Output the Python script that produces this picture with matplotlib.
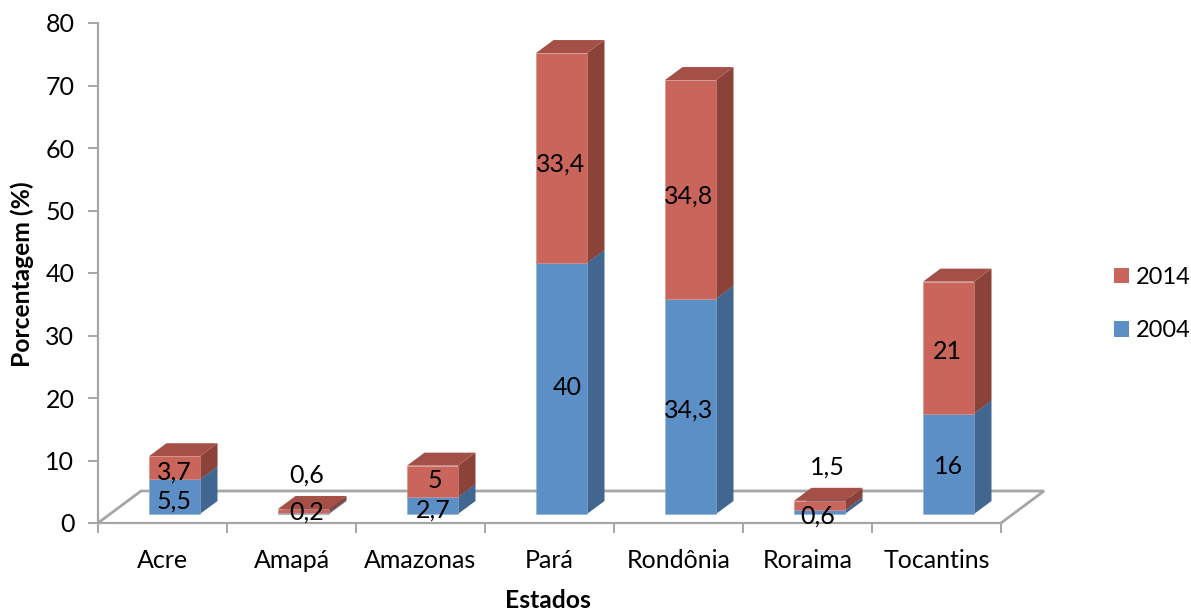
import matplotlib
matplotlib.use("Agg")
import matplotlib.pyplot as plt
from matplotlib.patches import Patch

plt.rcParams['font.family'] = ['Lato', 'DejaVu Sans']

# Chart data
states = ['Acre', 'Amapá', 'Amazonas', 'Pará', 'Rondônia', 'Roraima', 'Tocantins']
values_2004 = [5.5, 0.2, 2.7, 40, 34.3, 0.6, 16]
values_2014 = [3.7, 0.6, 5, 33.4, 34.8, 1.5, 21]
labels_2004 = ['5,5', '0,2', '2,7', '40', '34,3', '0,6', '16']
labels_2014 = ['3,7', '0,6', '5', '33,4', '34,8', '1,5', '21']
y_ticks = [0, 10, 20, 30, 40, 50, 60, 70, 80]

# Label nudges in pixels (right, up) from the middle of each segment
nudge_2004 = [(0, -2), (3.5, 3), (0.5, -2.5), (5.5, 2.5), (-1.5, -2), (-1.5, -2), (0, -1)]
nudge_2014 = [(0, -2), (3.5, 38), (2.5, 3), (-0.5, -4), (-1.5, -4.5), (7.5, 40), (-1.5, -1.5)]

W, H = 1191, 610
GRAY = '#A6A6A6'
RED = {'front': '#C9655B', 'top': '#A55046', 'side': '#8A4239', 'edge': '#D38F88'}
BLUE = {'front': '#5B8FC5', 'top': '#4A76A6', 'side': '#416690', 'edge': '#8FB2D8'}
FS = 18

fig = plt.figure(figsize=(W / 100, H / 100), dpi=100, facecolor='white')
ax = fig.add_axes([98 / W, 1 - 523 / H, (1001 - 98) / W, 500 / H])
ax.set_xlim(0, 7)
ax.set_ylim(0, 80)

px_x = 129.0            # pixels per category
px_y = 6.25             # pixels per axis unit
depth_x = 17.5 / px_x
depth_y = 13 / px_y
base = 9 / px_y         # bars stand on the floor, slightly above the axis line
gain = 6.28 / px_y
half_w = 25.5 / px_x
centre_shift = 12 / px_x


def box(xc, v0, v1, colors, z):
    """Draw one oblique box between two cumulative values."""
    x0, x1 = xc - half_w, xc + half_w
    y0, y1 = base + v0 * gain, base + v1 * gain
    kw = dict(clip_on=False, zorder=z, linewidth=0)
    ax.fill([x1, x1 + depth_x, x1 + depth_x, x1],
            [y0, y0 + depth_y, y1 + depth_y, y1], color=colors['side'], **kw)
    ax.fill([x0, x1, x1 + depth_x, x0 + depth_x],
            [y1, y1, y1 + depth_y, y1 + depth_y], color=colors['top'], **kw)
    ax.fill([x0, x1, x1, x0], [y0, y0, y1, y1], facecolor=colors['front'],
            edgecolor=colors['edge'], clip_on=False, zorder=z + 0.1, linewidth=0.4)


# Floor of the oblique plot area
floor_x = [0, 43 / px_x, 7 + 43 / px_x, 7]
floor_y = [0, 32 / px_y, 32 / px_y, 0]
ax.plot(floor_x, floor_y, color=GRAY, lw=2, clip_on=False, zorder=1,
        solid_joinstyle='miter')

for i, (a, b) in enumerate(zip(values_2004, values_2014)):
    xc = i + 0.5 + centre_shift
    box(xc, 0, a, BLUE, 2 + i)
    box(xc, a, a + b, RED, 2.3 + i)

    for v_mid, text, (dx, dy) in (
            (a / 2, labels_2004[i], nudge_2004[i]),
            (a + b / 2, labels_2014[i], nudge_2014[i])):
        ax.annotate(text, (xc, base + v_mid * gain), xytext=(dx, dy),
                    textcoords='offset pixels', ha='center', va='center_baseline',
                    fontsize=FS, color='black', zorder=20, annotation_clip=False)

# Axes
for side in ('top', 'right'):
    ax.spines[side].set_visible(False)
for side in ('left', 'bottom'):
    ax.spines[side].set_color(GRAY)
    ax.spines[side].set_linewidth(1.6)
    ax.spines[side].set_zorder(1)

ax.set_yticks(y_ticks)
ax.set_xticks(range(8))
ax.set_xticklabels([])
ax.set_xticks([i + 0.5 for i in range(7)], labels=states, minor=True)
ax.tick_params(axis='y', which='major', color=GRAY, width=1.4, length=7,
               labelsize=FS, pad=10)
ax.tick_params(axis='x', which='major', color=GRAY, width=1.4, length=7)
ax.tick_params(axis='x', which='minor', length=0, labelsize=FS, pad=18.5)

fig.text(22 / W, 1 - 274 / H, 'Porcentagem (%)', rotation=90, fontsize=17.7, weight='bold',
         ha='center', va='center')
fig.text(548 / W, 1 - 600 / H, 'Estados', fontsize=17.7, weight='bold',
         ha='center', va='center')

handles = [Patch(facecolor=RED['front'], label='2014'),
           Patch(facecolor=BLUE['front'], label='2004')]
fig.legend(handles=handles, loc='center left', bbox_to_anchor=(1114 / W, 1 - 304 / H),
           frameon=False, fontsize=17, labelspacing=1.36, handlelength=0.64,
           handleheight=0.64, handletextpad=0.3, borderaxespad=0, borderpad=0)

fig.savefig('out.png', dpi=100, facecolor='white')
